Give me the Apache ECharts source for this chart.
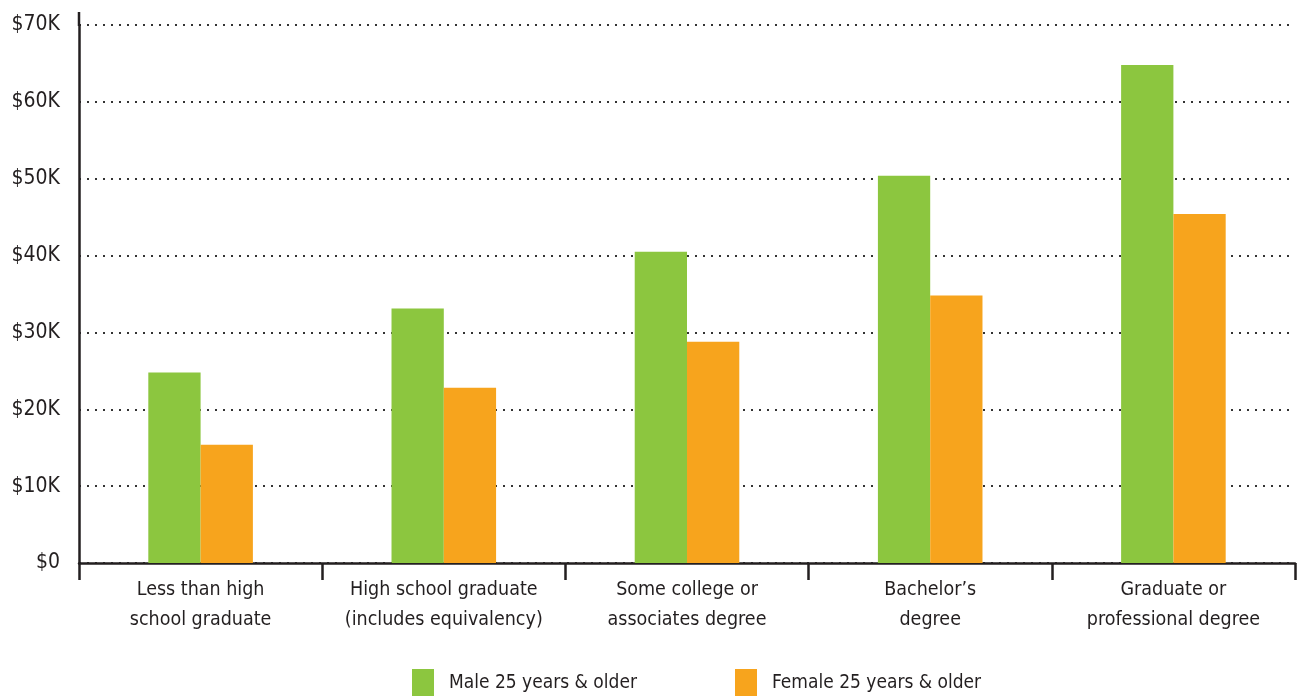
<!DOCTYPE html>
<html>
<head>
<meta charset="utf-8">
<script src="https://cdn.jsdelivr.net/npm/echarts@6/dist/echarts.min.js"></script>
<style>
  html, body { margin: 0; padding: 0; background: #fff; }
  #chart { width: 1299px; height: 696px; }
</style>
</head>
<body>
<div id="chart"></div>
<script>
// data
var categories = [
  'Less than high\nschool graduate',
  'High school graduate\n(includes equivalency)',
  'Some college or\nassociates degree',
  'Bachelor\u2019s\ndegree',
  'Graduate or\nprofessional degree'
];
var maleValues = [24.8, 33.1, 40.5, 50.4, 64.8];   // $K
var femaleValues = [15.4, 22.8, 28.8, 34.8, 45.4]; // $K
var seriesNames = ['Male 25 years & older', 'Female 25 years & older'];
var yTicks = [0, 10, 20, 30, 40, 50, 60, 70];

var FONT = '"Liberation Sans Narrow", "Arial Narrow", "DejaVu Sans Condensed", sans-serif';
var INK = '#231f20';

function legendFor(name, left) {
  return {
    bottom: -1,
    left: left,
    padding: 0,
    itemWidth: 22,
    itemHeight: 28,
    itemGap: 0,
    icon: 'rect',
    textStyle: { fontFamily: FONT, fontSize: 19, color: INK, padding: [0, 0, 0, 10] },
    data: [name]
  };
}

var chart = echarts.init(document.getElementById('chart'));
var option = {
  backgroundColor: '#fff',
  animation: false,
  grid: { left: 79, right: 4, top: 25, bottom: 133 },
  legend: [legendFor(seriesNames[0], 412), legendFor(seriesNames[1], 735)],
  xAxis: {
    type: 'category',
    data: categories,
    axisLine: { lineStyle: { color: INK, width: 2.5 } },
    axisTick: { show: true, alignWithLabel: false, interval: 0, length: 17, lineStyle: { color: INK, width: 2.5 } },
    axisLabel: {
      fontFamily: FONT, fontSize: 19.5, color: INK,
      lineHeight: 30, margin: 12, interval: 0
    }
  },
  yAxis: {
    type: 'value',
    min: yTicks[0],
    max: yTicks[yTicks.length - 1],
    interval: 10,
    axisLine: { show: true, lineStyle: { color: INK, width: 2.5 } },
    axisTick: { show: false },
    splitLine: { lineStyle: { color: '#333', width: 2, type: [2, 6] } },
    axisLabel: {
      fontFamily: FONT, fontSize: 21, color: INK, margin: 19,
      formatter: function (v) { return v === 0 ? '$0' : '$' + v + 'K'; }
    }
  },
  graphic: [{
    type: 'line',
    shape: { x1: 79, y1: 12, x2: 79, y2: 26 },
    style: { stroke: INK, lineWidth: 2.5 }
  }],
  series: [
    {
      name: seriesNames[0],
      type: 'bar',
      data: maleValues,
      itemStyle: { color: '#8cc63f' },
      barGap: '0%',
      barCategoryGap: '57%'
    },
    {
      name: seriesNames[1],
      type: 'bar',
      data: femaleValues,
      itemStyle: { color: '#f7a41d' }
    }
  ]
};
chart.setOption(option);
</script>
</body>
</html>
